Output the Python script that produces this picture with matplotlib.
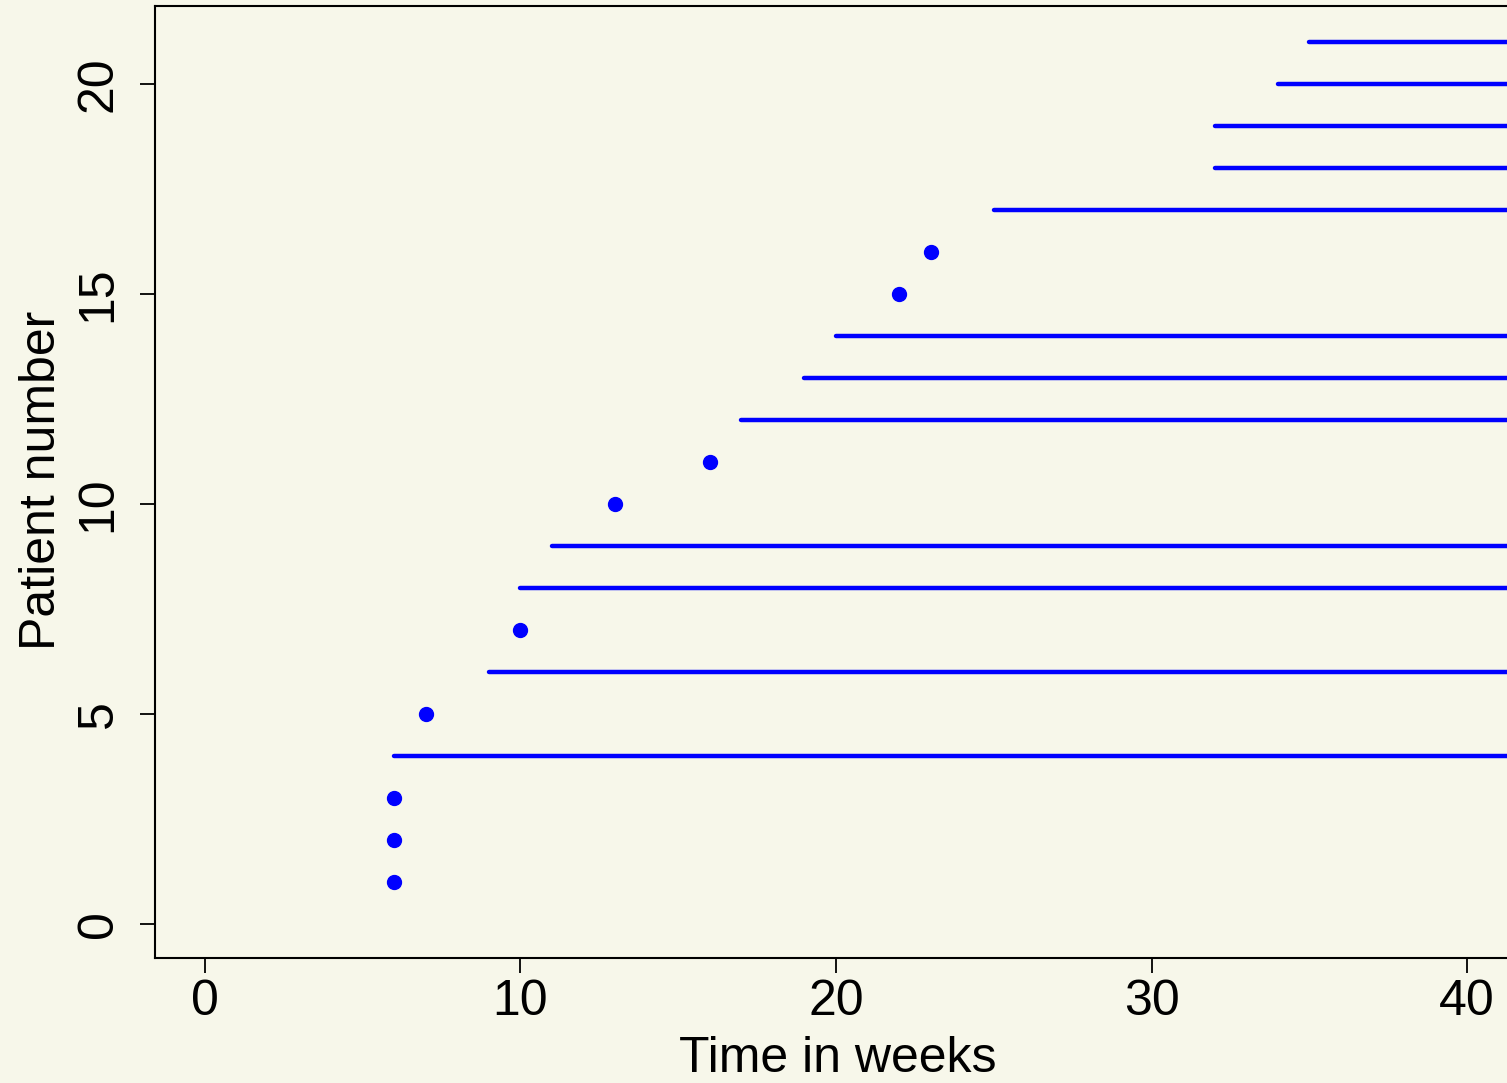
import matplotlib
matplotlib.use("Agg")
import matplotlib.pyplot as plt

# 6-MP group: events (dots) and censored follow-up (lines)
event_patient = [1, 2, 3, 5, 7, 10, 11, 15, 16]
event_time = [6, 6, 6, 7, 10, 13, 16, 22, 23]
cens_patient = [4, 6, 8, 9, 12, 13, 14, 17, 18, 19, 20, 21]
cens_time = [6, 9, 10, 11, 17, 19, 20, 25, 32, 32, 34, 35]
follow_end = 50

xticks = [0, 10, 20, 30, 40]
yticks = [0, 5, 10, 15, 20]

bg = "#F7F7EA"
plt.rcParams['font.family'] = ['Liberation Sans', 'DejaVu Sans']

fig = plt.figure(figsize=(15.07, 10.83), dpi=100, facecolor=bg)
ax = fig.add_axes([155/1507, 125/1083, 1445/1507, 952/1083], facecolor=bg)

ax.hlines(cens_patient, cens_time, follow_end, color="#0000FF", lw=3.2, capstyle="round")
ax.plot(event_time, event_patient, "o", color="#0000FF", ms=10)

ax.set_xlim(-1.58, 44.21)
ax.set_ylim(-0.81, 21.86)
ax.set_xticks(xticks)
ax.set_yticks(yticks)
ax.spines['right'].set_visible(False)
for s in ax.spines.values():
    s.set_linewidth(1.5)

ax.tick_params(axis='both', direction='out', length=11, width=1.3, labelsize=36)
ax.tick_params(axis='x', pad=4)
ax.tick_params(axis='y', pad=13)
for lab in ax.get_yticklabels():
    lab.set_rotation(90)
    lab.set_va('center')

ax.set_xlabel("Time in weeks", fontsize=36)
ax.set_ylabel("Patient number", fontsize=36)
ax.xaxis.set_label_coords(0.4727, -0.082)
ax.yaxis.set_label_coords(-0.062, 0.502)

fig.savefig("out.png", dpi=100, facecolor=bg)
